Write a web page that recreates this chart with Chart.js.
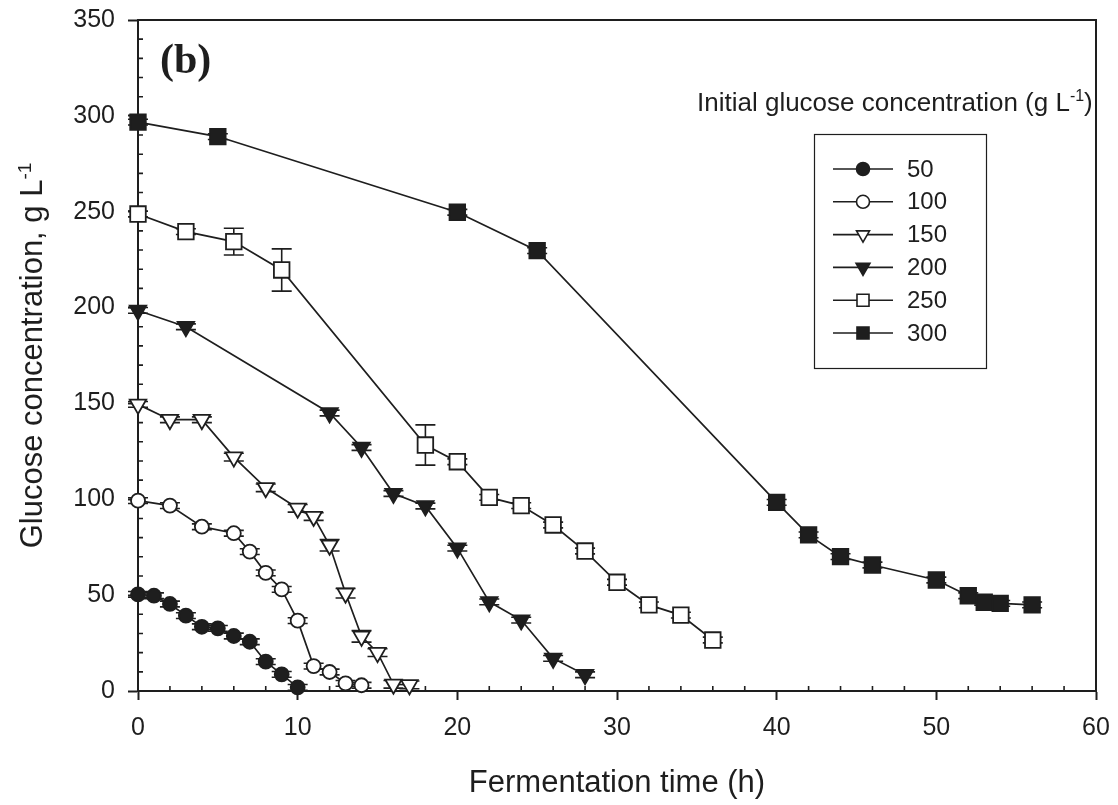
<!DOCTYPE html>
<html><head><meta charset="utf-8">
<script src="https://cdn.jsdelivr.net/npm/chart.js@4.4.1/dist/chart.umd.min.js"></script>
<style>html,body{margin:0;padding:0;background:#fff;}#wrap{width:1118px;height:805px;position:relative;}</style>
</head><body><div id="wrap"><canvas id="c" width="1118" height="805"></canvas></div>
<script>
// ---- data ----
const seriesLabels = ['50', '100', '150', '200', '250', '300'];

const time50 = [0, 1, 2, 3, 4, 5, 6, 7, 8, 9, 10];
const glucose50 = [50.4, 49.7, 45.4, 39.3, 33.5, 32.7, 28.7, 25.7, 15.3, 8.7, 1.9];
const err50 = [1.5, 1.5, 1.5, 1.5, 1.5, 1.5, 1.5, 1.5, 1.5, 1.5, 1.5];

const time100 = [0, 2, 4, 6, 7, 8, 9, 10, 11, 12, 13, 14];
const glucose100 = [99.3, 96.7, 85.7, 82.3, 72.7, 61.6, 53.0, 36.7, 13.0, 9.9, 4.0, 3.0];
const err100 = [1.5, 1.5, 1.5, 1.5, 1.5, 1.5, 1.5, 1.5, 1.5, 1.5, 1.5, 1.5];

const time150 = [0, 2, 4, 6, 8, 10, 11, 12, 13, 14, 15, 16, 17];
const glucose150 = [149.5, 141.5, 141.5, 122.0, 106.0, 95.3, 91.0, 76.0, 51.0, 28.5, 20.0, 3.5, 3.2];
const err150 = [1.5, 1.5, 1.5, 2, 2, 2, 2, 3, 2.5, 3, 2, 2, 2];

const time200 = [0, 3, 12, 14, 16, 18, 20, 22, 24, 26, 28];
const glucose200 = [198.5, 190.0, 145.0, 127.0, 103.0, 96.5, 74.5, 46.5, 37.0, 17.0, 8.5];
const err200 = [1.5, 1.5, 1.5, 1.5, 1.5, 1.5, 1.5, 1.5, 1.5, 1.5, 1.5];

const time250 = [0, 3, 6, 9, 18, 20, 22, 24, 26, 28, 30, 32, 34, 36];
const glucose250 = [248.8, 239.6, 234.4, 219.6, 128.3, 119.6, 101.0, 96.7, 86.6, 73.0, 56.7, 44.9, 39.6, 26.6];
const err250 = [1.5, 1.5, 7, 11, 10.5, 1.5, 1.5, 1.5, 1.5, 1.5, 1.5, 1.5, 1.5, 1.5];

const time300 = [0, 5, 20, 25, 40, 42, 44, 46, 50, 52, 53, 54, 56];
const glucose300 = [296.7, 289.2, 249.7, 229.7, 98.4, 81.4, 70.1, 65.7, 57.9, 49.7, 46.3, 45.7, 44.9];
const err300 = [1.5, 1.5, 1.5, 1.5, 1.5, 1.5, 1.5, 1.5, 1.5, 1.5, 1.5, 1.5, 1.5];

const xTicks = [0, 10, 20, 30, 40, 50, 60];
const yTicks = [0, 50, 100, 150, 200, 250, 300, 350];

const xTitle = 'Fermentation time (h)';
const yTitle = 'Glucose concentration, g L';
const yTitleSup = '-1';
const legendTitle = 'Initial glucose concentration (g L';
const legendTitleSup = '-1';
const legendTitleEnd = ')';
const panelLabel = '(b)';

// ---- styles ----
const INK = '#1e1e1e';
const SANS = "'Liberation Sans', Arial, sans-serif";
const markerStyles = [
  {pointStyle: 'circle', fill: INK, radius: 7, rotation: 0, legendRadius: 6.5},
  {pointStyle: 'circle', fill: '#ffffff', radius: 7, rotation: 0, legendRadius: 6.5},
  {pointStyle: 'triangle', fill: '#ffffff', radius: 9.5, rotation: 180, legendRadius: 7.5},
  {pointStyle: 'triangle', fill: INK, radius: 9.5, rotation: 180, legendRadius: 8},
  {pointStyle: 'rect', fill: '#ffffff', radius: 11, rotation: 0, legendRadius: 8.5},
  {pointStyle: 'rect', fill: INK, radius: 11, rotation: 0, legendRadius: 8.5}
];

const allTimes = [time50, time100, time150, time200, time250, time300];
const allGlucose = [glucose50, glucose100, glucose150, glucose200, glucose250, glucose300];
const allErr = [err50, err100, err150, err200, err250, err300];

const datasets = seriesLabels.map((lab, i) => {
  const st = markerStyles[i];
  return {
    label: lab,
    data: allTimes[i].map((t, j) => ({x: t, y: allGlucose[i][j]})),
    errors: allErr[i],
    borderColor: INK,
    borderWidth: 1.7,
    backgroundColor: st.fill,
    pointStyle: st.pointStyle,
    pointRotation: st.rotation,
    pointRadius: st.radius,
    pointBackgroundColor: st.fill,
    pointBorderColor: INK,
    pointBorderWidth: 1.8,
    tension: 0,
    fill: false,
    clip: false
  };
});

function drawSupText(ctx, base, sup, end, size, supSize, raise) {
  ctx.font = size + 'px ' + SANS;
  const w1 = ctx.measureText(base).width;
  ctx.font = supSize + 'px ' + SANS;
  const w2 = ctx.measureText(sup).width;
  ctx.font = size + 'px ' + SANS;
  const w3 = end ? ctx.measureText(end).width : 0;
  return {w: w1 + w2 + w3, draw(x0, y0) {
    ctx.font = size + 'px ' + SANS;
    ctx.fillText(base, x0, y0);
    ctx.font = supSize + 'px ' + SANS;
    ctx.fillText(sup, x0 + w1, y0 - raise);
    if (end) { ctx.font = size + 'px ' + SANS; ctx.fillText(end, x0 + w1 + w2, y0); }
  }};
}

const errorBars = {
  id: 'errorBars',
  beforeDatasetsDraw(chart) {
    const ctx = chart.ctx, ys = chart.scales.y;
    ctx.save();
    ctx.strokeStyle = INK; ctx.lineWidth = 1.6;
    chart.data.datasets.forEach((ds, i) => {
      const meta = chart.getDatasetMeta(i);
      meta.data.forEach((pt, j) => {
        const e = ds.errors[j]; if (!e) return;
        const v = ds.data[j].y;
        const yt = ys.getPixelForValue(v + e), yb = ys.getPixelForValue(v - e);
        ctx.beginPath();
        ctx.moveTo(pt.x, yt); ctx.lineTo(pt.x, yb);
        ctx.moveTo(pt.x - 10, yt); ctx.lineTo(pt.x + 10, yt);
        ctx.moveTo(pt.x - 10, yb); ctx.lineTo(pt.x + 10, yb);
        ctx.stroke();
      });
    });
    ctx.restore();
  }
};

const decorations = {
  id: 'decorations',
  beforeDatasetsDraw(chart) {
    const ctx = chart.ctx, a = chart.chartArea, xs = chart.scales.x, ys = chart.scales.y;
    ctx.save();
    ctx.strokeStyle = INK;
    ctx.lineWidth = 2;
    ctx.beginPath();
    ctx.moveTo(a.left, a.top); ctx.lineTo(a.right, a.top); ctx.lineTo(a.right, a.bottom);
    ctx.stroke();
    ctx.lineWidth = 1.6;
    ctx.beginPath();
    for (let t = 2; t < 60; t += 2) {
      if (t % 10 === 0) continue;
      const px = xs.getPixelForValue(t);
      ctx.moveTo(px, a.bottom); ctx.lineTo(px, a.bottom - 5);
    }
    for (let v = 10; v < 350; v += 10) {
      if (v % 50 === 0) continue;
      const py = ys.getPixelForValue(v);
      ctx.moveTo(a.left, py); ctx.lineTo(a.left + 5, py);
    }
    ctx.stroke();
    ctx.restore();
  },
  afterDraw(chart) {
    const ctx = chart.ctx, a = chart.chartArea;
    ctx.save();
    ctx.fillStyle = INK;
    ctx.textBaseline = 'alphabetic';
    ctx.textAlign = 'left';
    const yt = drawSupText(ctx, yTitle, yTitleSup, '', 31, 19, 11);
    ctx.save();
    ctx.translate(42, (a.top + a.bottom) / 2);
    ctx.rotate(-Math.PI / 2);
    yt.draw(-yt.w / 2, 0);
    ctx.restore();
    const lt = drawSupText(ctx, legendTitle, legendTitleSup, legendTitleEnd, 26, 16, 10);
    lt.draw(697, 111);
    ctx.font = 'bold 42px "Liberation Serif", "Times New Roman", serif';
    ctx.fillText(panelLabel, 160, 73);
    ctx.strokeStyle = INK;
    ctx.lineWidth = 1.2;
    ctx.strokeRect(814.5, 134.5, 172, 234);
    chart.data.datasets.forEach((ds, i) => {
      const st = markerStyles[i];
      const ry = 169 + i * 32.8;
      ctx.lineWidth = 1.6;
      ctx.strokeStyle = INK;
      ctx.beginPath(); ctx.moveTo(833, ry); ctx.lineTo(893, ry); ctx.stroke();
      ctx.fillStyle = st.fill;
      Chart.helpers.drawPoint(ctx, {pointStyle: st.pointStyle, radius: st.legendRadius, rotation: st.rotation, borderWidth: 1.6}, 863, ry);
      ctx.fillStyle = INK;
      ctx.font = '24px ' + SANS;
      ctx.textBaseline = 'middle';
      ctx.fillText(ds.label, 907, ry + 1);
      ctx.textBaseline = 'alphabetic';
    });
    ctx.restore();
  }
};

new Chart(document.getElementById('c'), {
  type: 'line',
  data: {datasets},
  options: {
    responsive: false,
    animation: false,
    devicePixelRatio: 1,
    layout: {padding: {top: 20, right: 22, left: 0, bottom: 0}},
    plugins: {legend: {display: false}, tooltip: {enabled: false}},
    scales: {
      x: {
        type: 'linear', min: 0, max: 60,
        afterBuildTicks: s => { s.ticks = xTicks.map(v => ({value: v})); },
        afterFit: s => { s.height = 114; s.paddingLeft = 0; s.paddingRight = 0; },
        ticks: {color: INK, font: {size: 25, family: SANS}, padding: 13, maxRotation: 0},
        grid: {display: true, drawOnChartArea: false, drawTicks: true, tickLength: 9, tickWidth: 2, tickColor: INK},
        border: {display: true, color: INK, width: 2},
        title: {display: true, text: xTitle, color: INK, font: {size: 31, family: SANS}, padding: {top: 0, bottom: 3}}
      },
      y: {
        type: 'linear', min: 0, max: 350,
        afterBuildTicks: s => { s.ticks = yTicks.map(v => ({value: v})); },
        afterFit: s => { s.width = 138; s.paddingTop = 0; s.paddingBottom = 0; },
        ticks: {color: INK, font: {size: 25, family: SANS}, padding: 13},
        grid: {display: true, drawOnChartArea: false, drawTicks: true, tickLength: 10, tickWidth: 2, tickColor: INK},
        border: {display: true, color: INK, width: 2}
      }
    }
  },
  plugins: [decorations, errorBars]
});
</script>
</body></html>
